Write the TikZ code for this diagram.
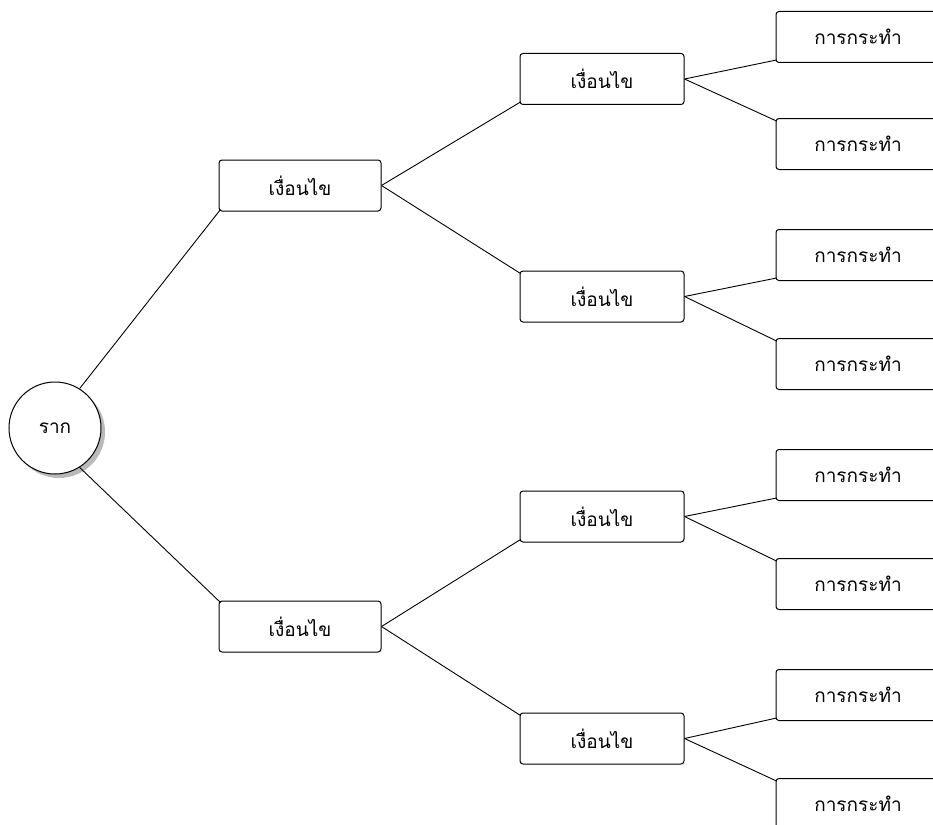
\documentclass[tikz,border=0pt]{standalone}
\usepackage{fontspec}
\newfontfamily\thaifont[Script=Thai]{Loma}
\usetikzlibrary{calc}
\begin{document}
\begin{tikzpicture}[x=1pt,y=-1pt,
  box/.style={draw=black,line width=1pt,rounded corners=3pt,fill=white,minimum width=164pt,minimum height=51pt,inner sep=0pt,font=\thaifont\fontsize{19}{22}\selectfont},
  cond/.style={box,minimum width=162pt},
  act/.style={box},
  rootnode/.style={draw=black,line width=1pt,circle,fill=white,minimum size=92pt,inner sep=0pt,font=\thaifont\fontsize{19}{22}\selectfont},
  conn/.style={line width=0.9pt}]
\useasboundingbox (0,0) rectangle (933,824);
\clip (0,0) rectangle (933,824);
\fill[white] (0,0) rectangle (933,824);
% shadow
\fill[gray!55] (59,432) circle (46pt);
\node[rootnode] (root) at (55,428) {ราก};
\node[cond] (c1) at (300,185.5) {เงื่อนไข};
\node[cond] (c2) at (300,626.5) {เงื่อนไข};
\node[cond,minimum width=164pt] (c11) at (602,79) {เงื่อนไข};
\node[cond,minimum width=164pt] (c12) at (602,296.5) {เงื่อนไข};
\node[cond,minimum width=164pt] (c21) at (602,516.5) {เงื่อนไข};
\node[cond,minimum width=164pt] (c22) at (602,738.5) {เงื่อนไข};
\node[act] (a1) at (858,37) {การกระทำ};
\node[act] (a2) at (858,144) {การกระทำ};
\node[act] (a3) at (858,255) {การกระทำ};
\node[act] (a4) at (858,364) {การกระทำ};
\node[act] (a5) at (858,475) {การกระทำ};
\node[act] (a6) at (858,584) {การกระทำ};
\node[act] (a7) at (858,695) {การกระทำ};
\node[act] (a8) at (858,804) {การกระทำ};
\draw[conn] (root.58) -- ($(c1.south west)+(2,-2)$);
\draw[conn] (root.-58) -- ($(c2.north west)+(2,2)$);
\foreach \p/\a/\b in {c1/c11/c12,c2/c21/c22,c11/a1/a2,c12/a3/a4,c21/a5/a6,c22/a7/a8}{
  \draw[conn] (\p.east) -- ($(\a.south west)+(1,-3)$);
  \draw[conn] (\p.east) -- ($(\b.north west)+(1,3)$);
}
\end{tikzpicture}
\end{document}
